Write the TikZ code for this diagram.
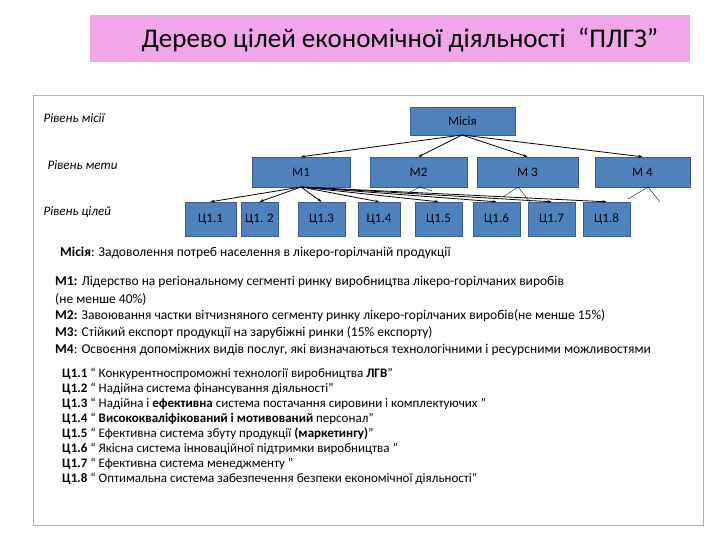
\documentclass[tikz,border=0pt]{standalone}
\usepackage{fontspec}
\setmainfont{Carlito}
\usetikzlibrary{arrows.meta}
\definecolor{boxblue}{RGB}{79,129,189}
\definecolor{boxedge}{RGB}{56,93,138}
\definecolor{pinkbg}{RGB}{242,166,234}
\tikzset{
 bx/.style={draw=boxedge,fill=boxblue,inner sep=0pt,font=\fontsize{13}{15}\selectfont},
 arr/.style={-{Stealth[length=4pt]},thick},
 stub/.style={thin},
 lvl/.style={anchor=west,font=\fontsize{13}{15}\selectfont\itshape},
 ln/.style={anchor=west,font=\fontsize{13.5}{15}\selectfont,inner sep=0pt},
 sm/.style={anchor=west,font=\fontsize{13}{14}\selectfont,inner sep=0pt}
}
\begin{document}
\begin{tikzpicture}[x=1pt,y=-1pt]
\useasboundingbox (0,0) rectangle (720,540);
\fill[white] (0,0) rectangle (720,540);
\fill[pinkbg] (90,15) rectangle (690,62);
\node[font=\fontsize{27}{30}\selectfont] (title) at (400,40) {Дерево цілей економічної діяльності \ “ПЛГЗ”};
\draw[gray!60] (33,95) rectangle (703,525);
\node[lvl] (l1) at (40,118) {Рівень місії};
\node[lvl] (l2) at (44,165) {Рівень мети};
\node[lvl] (l3) at (40,212) {Рівень цілей};
\node[bx,minimum width=105pt,minimum height=28pt] (m) at (462.5,121) {Місія};
\foreach \n/\t/\a/\b in {m1/М1/252/350,m2/М2/370/467,m3/М 3/477/578,m4/М 4/595/690}
  \node[bx,minimum width={\b-\a},minimum height=30pt] (\n) at ({(\a+\b)/2},172) {\t};
\foreach \n/\t/\a/\b in {c1/Ц1.1/185/236,c2/Ц1. 2/241/278,c3/Ц1.3/298/345,c4/Ц1.4/358/400,c5/Ц1.5/415/462,c6/Ц1.6/473/520,c7/Ц1.7/528/575,c8/Ц1.8/583/630}
  \node[bx,minimum width={\b-\a},minimum height=34pt] (\n) at ({(\a+\b)/2},219) {\t};
\coordinate (mb) at (462,135);
\coordinate (m1b) at (301,187);
\foreach \n in {m1,m2,m3,m4} \draw[arr] (mb) -- (\n.north);
\foreach \n in {c1,c2,c3,c4,c5,c6,c7,c8} \draw[arr] (m1b) -- (\n.north);
\coordinate (s2) at (420,187); \coordinate (s3) at (518,187); \coordinate (s4) at (648,187);
\draw[stub] (s2) -- +(-12,6); \draw[stub] (s2) -- +(12,4);
\draw[stub] (s3) -- +(-15,10); \draw[stub] (s3) -- +(12,15);
\draw[stub] (s4) -- +(-20,12); \draw[stub] (s4) -- +(12,15);
\node[ln] (t0) at (60,253) {\textbf{Місія}: Задоволення потреб населення в лікеро-горілчаній продукції};
\node[ln] (t1) at (55,282) {\textbf{М1:} Лідерство на регіональному сегменті ринку виробництва лікеро-горілчаних виробів};
\node[ln] (t1b) at (55,299) {(не менше 40\%)};
\node[ln] (t2) at (55,316) {\textbf{М2:} Завоювання частки вітчизняного сегменту ринку лікеро-горілчаних виробів(не менше 15\%)};
\node[ln] (t3) at (55,333) {\textbf{М3:} Стійкий експорт продукції на зарубіжні ринки (15\% експорту)};
\node[ln] (t4) at (55,350) {\textbf{М4}: Освоєння допоміжних видів послуг, які визначаються технологічними і ресурсними можливостями};
\node[sm] (a1) at (62,374) {\textbf{Ц1.1} “ Конкурентноспроможні технології виробництва \textbf{ЛГВ}”};
\node[sm] (a2) at (62,389) {\textbf{Ц1.2} “ Надійна система фінансування діяльності”};
\node[sm] (a3) at (62,404) {\textbf{Ц1.3} “ Надійна і \textbf{ефективна} система постачання сировини і комплектуючих ”};
\node[sm] (a4) at (62,419) {\textbf{Ц1.4} “ \textbf{Висококваліфікований і мотивований} персонал”};
\node[sm] (a5) at (62,434) {\textbf{Ц1.5} “ Ефективна система збуту продукції \textbf{(маркетингу)}”};
\node[sm] (a6) at (62,449) {\textbf{Ц1.6} “ Якісна система інноваційної підтримки виробництва ”};
\node[sm] (a7) at (62,464) {\textbf{Ц1.7} “ Ефективна система менеджменту ”};
\node[sm] (a8) at (62,479) {\textbf{Ц1.8} “ Оптимальна система забезпечення безпеки економічної діяльності”};
\end{tikzpicture}
\end{document}
